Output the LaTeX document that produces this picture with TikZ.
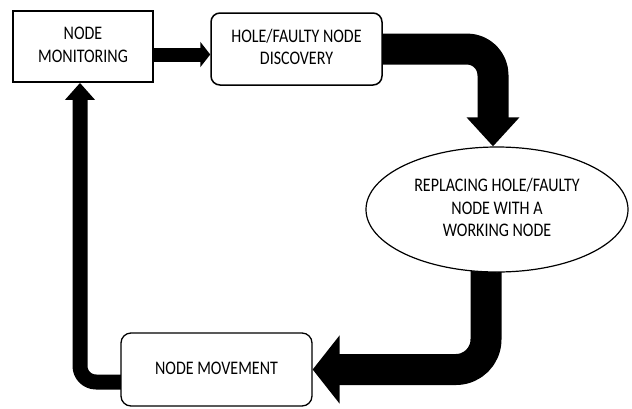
\documentclass[tikz,border=0pt]{standalone}
\usepackage{fontspec}
\setmainfont{Carlito}
\usetikzlibrary{arrows.meta,backgrounds,shapes.geometric}
\newcommand{\stretchtxt}[1]{\scalebox{1}[1.2]{\begin{tabular}{@{}c@{}}#1\end{tabular}}}
\begin{document}
\begin{tikzpicture}[x=1pt,y=-1pt,
  boxtext/.style={font=\fontsize{16}{19}\selectfont, inner sep=0pt, fill=white, align=center},
  flowarrow/.style={draw=black, line join=round}]
\useasboundingbox (0,0) rectangle (632,408);
\node[boxtext, draw, line width=1.8pt, minimum width=140pt, minimum height=71pt] (mon) at (83,46.5) {\stretchtxt{NODE\\MONITORING}};
\node[boxtext, draw, line width=1.5pt, rounded corners=9pt, minimum width=171pt, minimum height=72pt] (hole) at (296.5,49) {\stretchtxt{HOLE/FAULTY NODE\\DISCOVERY}};
\node[boxtext, ellipse, draw, line width=1.2pt, minimum width=262pt, minimum height=125pt] (ell) at (497,209.5) {\stretchtxt{REPLACING HOLE/FAULTY\\NODE WITH A\\WORKING NODE}};
\node[boxtext, draw, line width=1.3pt, rounded corners=10pt, minimum width=191pt, minimum height=73pt] (nm) at (216.5,369.5) {\stretchtxt{NODE MOVEMENT}};
\begin{pgfonlayer}{background}
\draw[flowarrow, line width=14pt, -{Triangle[length=10pt,width=25pt]}] ([yshift=-8pt]mon.center) -- ([yshift=-8pt]mon.center -| hole.west);
\draw[flowarrow, line width=31pt, rounded corners=26pt, -{Triangle[length=29pt,width=51pt]}] (hole.center) -| ([xshift=-4pt]ell.north);
\draw[flowarrow, line width=31pt, rounded corners=30pt, -{Triangle[length=27pt,width=67pt]}] ([xshift=-11pt]ell.center) |- (nm.east);
\draw[flowarrow, line width=15pt, rounded corners=16pt, -{Triangle[length=17pt,width=29pt]}] ([yshift=-12.5pt]nm.center) -| ([xshift=-3pt]mon.south);
\end{pgfonlayer}
\end{tikzpicture}
\end{document}
